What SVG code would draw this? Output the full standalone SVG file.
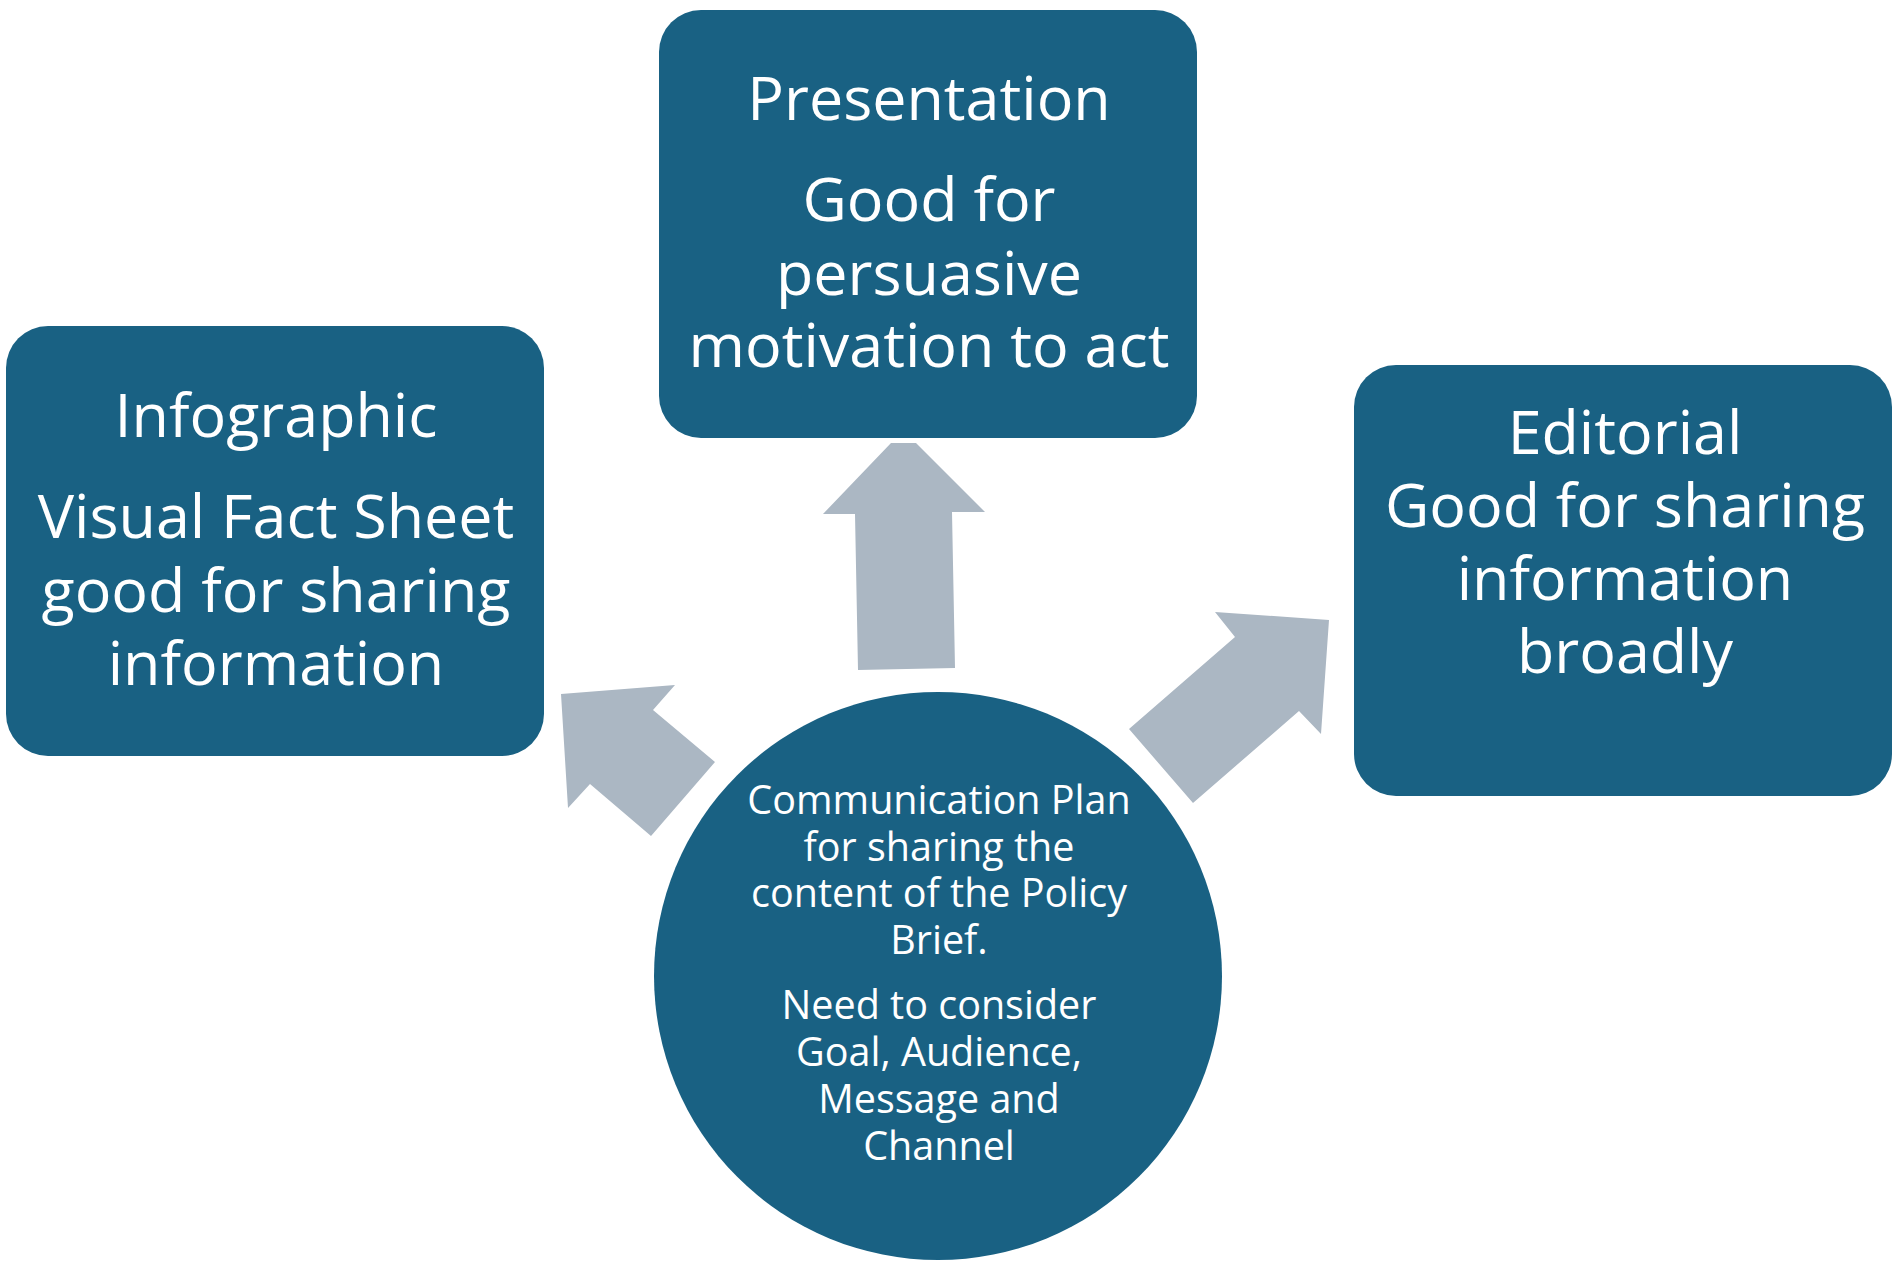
<svg xmlns="http://www.w3.org/2000/svg" width="1896" height="1261" viewBox="0 0 1896 1261">
<style>
.node{fill:#196183}
.arrow{fill:#abb7c3}
.big{font-family:"Open Sans","Liberation Sans",sans-serif;font-size:61px;fill:#fff;text-anchor:middle}
.small{font-family:"Open Sans","Liberation Sans",sans-serif;font-size:39.5px;fill:#fff;text-anchor:middle}
</style>
<rect width="1896" height="1261" fill="#fff"/>
<g id="connectors">
<polygon class="arrow" points="891,443 916,443 985,512 952,512 955,668 858,670 855,514 823,514"/>
<polygon class="arrow" points="561,694 675,685 653,710 715,762 651,836 590,784 568,808"/>
<polygon class="arrow" points="1215,612 1329,620 1321,734 1299,711 1193,803 1129,729 1235,637"/>
</g>
<g id="infographic">
<rect class="node" x="6" y="326" width="538" height="430" rx="42"/>
<text class="big" x="276" y="437">Infographic</text>
<text class="big" x="276" y="538">Visual Fact Sheet</text>
<text class="big" x="276" y="612">good for sharing</text>
<text class="big" x="276" y="685">information</text>
</g>
<g id="presentation">
<rect class="node" x="659" y="10" width="538" height="428" rx="42"/>
<text class="big" x="929" y="120">Presentation</text>
<text class="big" x="929" y="221">Good for</text>
<text class="big" x="929" y="295">persuasive</text>
<text class="big" x="929" y="367">motivation to act</text>
</g>
<g id="editorial">
<rect class="node" x="1354" y="365" width="538" height="431" rx="42"/>
<text class="big" x="1625" y="454">Editorial</text>
<text class="big" x="1625" y="527">Good for sharing</text>
<text class="big" x="1625" y="600">information</text>
<text class="big" x="1625" y="673">broadly</text>
</g>
<g id="communication-plan">
<circle class="node" cx="938" cy="976" r="284"/>
<text class="small" x="939" y="814">Communication Plan</text>
<text class="small" x="939" y="861">for sharing the</text>
<text class="small" x="939" y="907">content of the Policy</text>
<text class="small" x="939" y="954">Brief.</text>
<text class="small" x="939" y="1019">Need to consider</text>
<text class="small" x="939" y="1066">Goal, Audience,</text>
<text class="small" x="939" y="1113">Message and</text>
<text class="small" x="939" y="1160">Channel</text>
</g>
</svg>
